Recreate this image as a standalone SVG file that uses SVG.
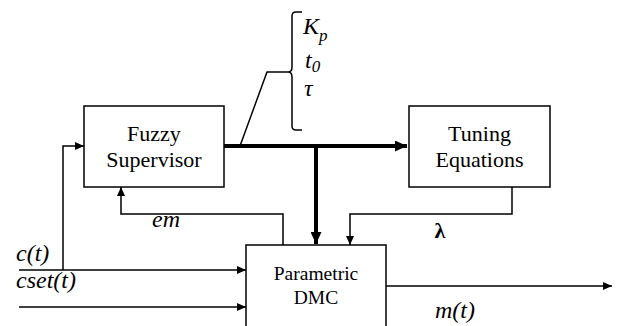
<svg xmlns="http://www.w3.org/2000/svg" width="617" height="326" viewBox="0 0 617 326">
<style>
.box{fill:#fff;stroke:#000;stroke-width:1.5}
.t{fill:#000;text-anchor:middle}
.lbl{font-style:italic;fill:#000;font-size:24px}
.w{fill:none;stroke:#000;stroke-width:1.5}
.wt{fill:none;stroke:#000;stroke-width:4}
</style>
<defs>
<marker id="a" markerWidth="9" markerHeight="8" refX="9" refY="4" orient="auto" markerUnits="userSpaceOnUse"><path d="M0,0L9,4L0,8Z" fill="#000"/></marker>
<marker id="A" markerWidth="12" markerHeight="11" refX="12" refY="5.5" orient="auto" markerUnits="userSpaceOnUse"><path d="M0,0L12,5.5L0,11Z" fill="#000"/></marker>
</defs>
<rect width="617" height="326" fill="#fff"/>
<g id="connectors">
<path class="wt" d="M224,146H407" marker-end="url(#A)"/>
<path class="wt" d="M316,146V244" marker-end="url(#A)"/>
<path class="w" d="M63,270V146H84" marker-end="url(#a)"/>
<path class="w" d="M19,270H246" marker-end="url(#a)"/>
<path class="w" d="M19,307H246" marker-end="url(#a)"/>
<path class="w" d="M283,245V214H121V187" marker-end="url(#a)"/>
<path class="w" d="M512,187V214H350V245" marker-end="url(#a)"/>
<path class="w" d="M386,286H612" marker-end="url(#a)"/>
<path class="w" d="M240,146L267,72H288"/>
<path class="w" d="M302,12H296Q292,12 292,16V67Q292,72 288,72Q292,72 292,77V126Q292,130 296,130H302"/>
</g>
<g font-family="Liberation Serif, serif">
<g id="fuzzy">
<rect class="box" x="84" y="106" width="140" height="81"/>
<text class="t" x="154" y="141" font-size="22" font-family="Liberation Serif">Fuzzy</text>
<text class="t" x="154" y="167" font-size="22" font-family="Liberation Serif">Supervisor</text>
</g>
<g id="tuning">
<rect class="box" x="409" y="106" width="141" height="81"/>
<text class="t" x="479.5" y="141" font-size="22" font-family="Liberation Serif">Tuning</text>
<text class="t" x="479.5" y="167" font-size="22" font-family="Liberation Serif">Equations</text>
</g>
<g id="dmc">
<rect class="box" x="246" y="245" width="140" height="90"/>
<text class="t" x="316" y="280" font-size="19.5" font-family="Liberation Serif">Parametric</text>
<text class="t" x="316" y="304" font-size="19.5" font-family="Liberation Serif">DMC</text>
</g>
<g id="labels">
<text class="lbl" x="303" y="34" font-family="Liberation Serif">K<tspan font-size="17" dy="7">p</tspan></text>
<text class="lbl" x="305" y="68" font-family="Liberation Serif">t<tspan font-size="17" dy="4">0</tspan></text>
<text class="lbl" x="304" y="96" font-family="Liberation Serif">τ</text>
<text class="lbl" x="152" y="227" font-family="Liberation Serif">em</text>
<text class="t" x="440" y="238" font-weight="bold" font-size="22" font-family="Liberation Serif">λ</text>
<text class="lbl" x="435" y="318" font-family="Liberation Serif">m(t)</text>
<text class="lbl" x="16" y="261" font-family="Liberation Serif">c(t)</text>
<text class="lbl" x="16" y="288" font-family="Liberation Serif">cset(t)</text>
</g>
</g>
</svg>
